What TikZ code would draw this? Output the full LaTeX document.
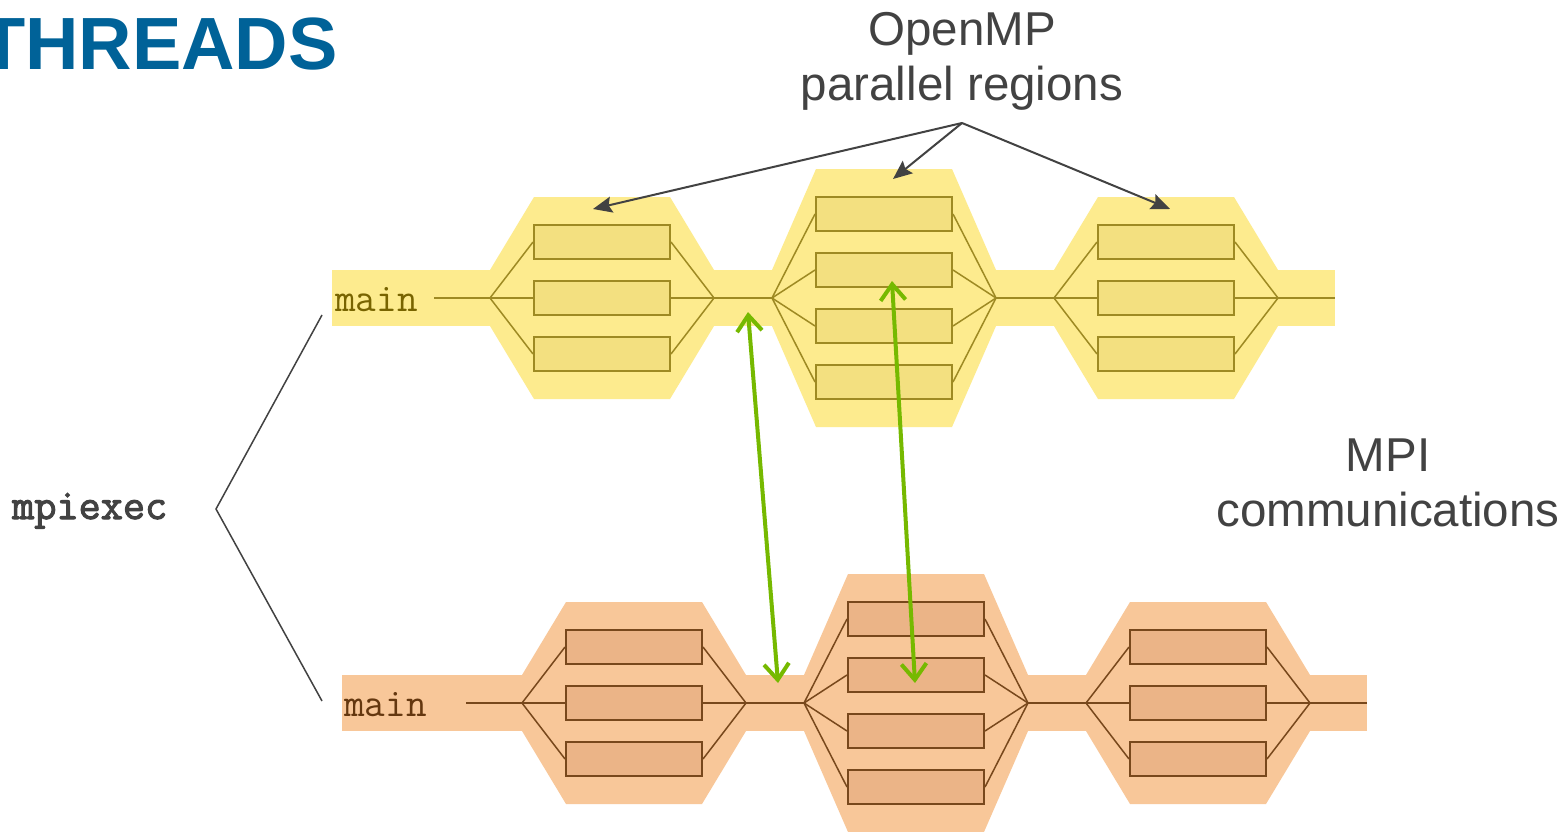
\documentclass[tikz,border=0pt]{standalone}
\usepackage{fontspec}
\setmainfont{Liberation Sans}
\newfontfamily\boldmono[FakeBold=2.5]{Latin Modern Mono}
\usetikzlibrary{arrows.meta}

\definecolor{darktxt}{RGB}{66,66,66}
\definecolor{titleblue}{RGB}{0,98,152}
\definecolor{mpigreen}{RGB}{118,185,0}
\definecolor{bandA}{RGB}{253,235,142}
\definecolor{boxA}{RGB}{243,224,128}
\definecolor{lineA}{RGB}{158,138,35}
\definecolor{textA}{RGB}{120,100,0}
\definecolor{bandB}{RGB}{248,199,153}
\definecolor{boxB}{RGB}{235,180,135}
\definecolor{lineB}{RGB}{120,72,28}
\definecolor{textB}{RGB}{100,55,15}

\tikzset{
  thread/.style={line width=2pt, minimum width=136pt, minimum height=34pt, inner sep=0pt},
  fork/.style={line width=1.5pt},
  label/.style={text=darktxt, align=center, inner sep=0pt, font=\fontsize{47.5pt}{55pt}\selectfont},
  ompline/.style={draw=darktxt, line width=2pt, -{Stealth[length=19pt,width=16pt,inset=3pt]}},
  mpiline/.style={draw=mpigreen, line width=4pt, line cap=round,
    {Straight Barb[length=16pt,width=25pt]}-{Straight Barb[length=16pt,width=25pt]}},
}

\begin{document}
\begin{tikzpicture}[x=1pt,y=-1pt]
  \def\halfband{28};
  \def\gap{57};
  \useasboundingbox (0,0) rectangle (1568,832);
  \fill[white] (0,0) rectangle (1568,832);
  %
  \foreach \row/\dx/\yc/\bandcol/\boxcol/\linecol/\txtcol/\bandL/\mainx in
     {a/0/298/bandA/boxA/lineA/textA/332/335, b/32/703/bandB/boxB/lineB/textB/342/344}
  {
    \fill[\bandcol] (\bandL,\yc-\halfband) rectangle (1335+\dx,\yc+\halfband);
    \foreach \reg/\cx/\n in {1/602/3, 2/884/4, 3/1166/3}
    {
      \pgfmathsetmacro\hh{28*(\n-1)+45}
      \fill[\bandcol] (\cx+\dx-112,\yc-\halfband) -- (\cx+\dx-68,\yc-\hh)
        -- (\cx+\dx+68,\yc-\hh) -- (\cx+\dx+112,\yc-\halfband)
        -- (\cx+\dx+112,\yc+\halfband) -- (\cx+\dx+68,\yc+\hh)
        -- (\cx+\dx-68,\yc+\hh) -- (\cx+\dx-112,\yc+\halfband) -- cycle;
      \coordinate (fork-\row-\reg) at (\cx+\dx-112,\yc);
      \coordinate (join-\row-\reg) at (\cx+\dx+112,\yc);
      \foreach \k in {1,...,\n}
      {
        \node[thread, fill=\boxcol, draw=\linecol] (t-\row-\reg-\k) at (\cx+\dx,\yc+56*\k-28*\n-28) {};
        \draw[fork, \linecol] (fork-\row-\reg) -- (t-\row-\reg-\k.west);
        \draw[fork, \linecol] (t-\row-\reg-\k.east) -- (join-\row-\reg);
      }
    }
    \node[anchor=base west, inner sep=0pt, text=\txtcol, font=\ttfamily\fontsize{40pt}{40pt}\selectfont]
      (main-\row) at (\mainx,\yc+13) {main};
    \coordinate (start-\row) at (491+\dx-\gap,\yc);
    \coordinate (end-\row) at (1278+\dx+\gap,\yc);
    \draw[fork, \linecol] (start-\row) -- (fork-\row-1);
    \draw[fork, \linecol] (join-\row-1) -- (fork-\row-2);
    \draw[fork, \linecol] (join-\row-2) -- (fork-\row-3);
    \draw[fork, \linecol] (join-\row-3) -- (end-\row);
  }
  %
  \node[anchor=base east, inner sep=0pt, text=titleblue, font=\bfseries\fontsize{74pt}{74pt}\selectfont]
    (title) at (338,70) {THREADS};
  \node[label] (omp) at (962,61) {OpenMP\\parallel regions};
  \node[label] (mpi) at (1388,483) {MPI\\communications};
  \node[anchor=base west, inner sep=0pt, text=darktxt, font=\boldmono\fontsize{43pt}{43pt}\selectfont]
    (mpiexec) at (12,519) {mpiexec};
  %
  \coordinate (brk-top) at (322,315);
  \coordinate (brk-mid) at (216,509);
  \coordinate (brk-bot) at (322,701);
  \draw[darktxt, line width=1.5pt] (brk-top) -- (brk-mid) -- (brk-bot);
  %
  \coordinate (omp-apex) at (962,123);
  \coordinate (omp-1) at (593,209);
  \coordinate (omp-2) at (893,179);
  \coordinate (omp-3) at (1170,209);
  \draw[ompline] (omp-apex) -- (omp-1);
  \draw[ompline] (omp-apex) -- (omp-2);
  \draw[ompline] (omp-apex) -- (omp-3);
  %
  \coordinate (mpi-a-1) at (748,312);
  \coordinate (mpi-b-1) at (778,683);
  \coordinate (mpi-a-2) at (892,281);
  \coordinate (mpi-b-2) at (915,683);
  \draw[mpiline] (mpi-a-1) -- (mpi-b-1);
  \draw[mpiline] (mpi-a-2) -- (mpi-b-2);
\end{tikzpicture}
\end{document}
